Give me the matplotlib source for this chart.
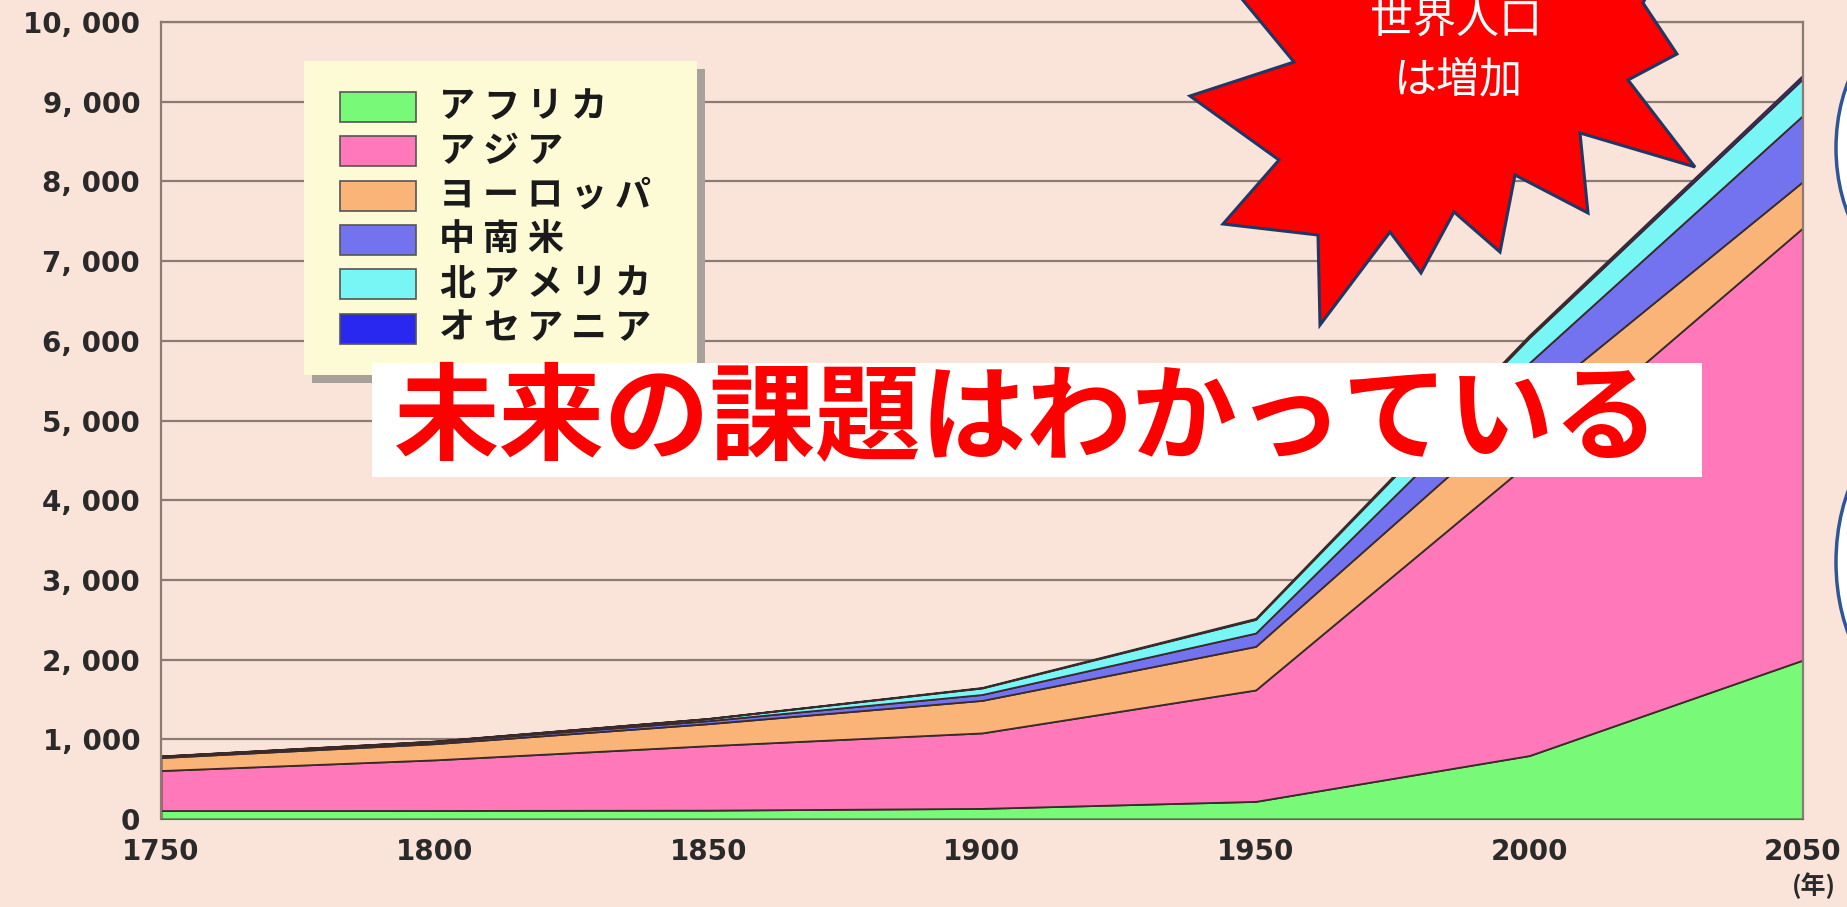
import matplotlib.pyplot as plt
from matplotlib.patches import Rectangle, Polygon, Ellipse

plt.rcParams['font.family'] = ['Noto Sans CJK JP', 'DejaVu Sans']

# world population by region (millions)
years = [1750, 1800, 1850, 1900, 1950, 2000, 2050]
africa = [106, 107, 111, 133, 221, 796, 1995]
asia = [502, 635, 809, 947, 1398, 3680, 5425]
europe = [163, 203, 276, 408, 547, 728, 580]
latin_america = [16, 24, 38, 74, 167, 520, 830]
north_america = [2, 7, 26, 82, 172, 316, 460]
oceania = [2, 2, 2, 6, 13, 31, 45]

regions = ['アフリカ', 'アジア', 'ヨーロッパ', '中南米', '北アメリカ', 'オセアニア']
colors = ['#78fa78', '#ff78b9', '#fab478', '#7373f0', '#78f5f5', '#2828f0']
y_ticks = list(range(0, 10001, 1000))
x_ticks = list(range(1750, 2051, 50))

bg = '#fae4da'
gridc = '#8c7b74'
W, H = 1847, 907

fig = plt.figure(figsize=(W / 100, H / 100), dpi=100, facecolor=bg)
ax = fig.add_axes([161 / W, 1 - 819 / H, (1803 - 161) / W, (819 - 22) / H])
ax.set_facecolor(bg)

ax.stackplot(years, africa, asia, europe, latin_america, north_america, oceania,
             colors=colors, edgecolor='#3a2a2a', linewidth=1.3)

ax.set_xlim(1750, 2050)
ax.set_ylim(0, 10000)
ax.set_xticks(x_ticks)
ax.set_xticklabels([str(x) for x in x_ticks], fontsize=20, fontweight='bold',
                   fontfamily='DejaVu Sans', color='#2a2a2a')
ax.set_yticks(y_ticks)
ax.set_yticklabels(['{:,}'.format(v).replace(',', ', ') for v in y_ticks], fontsize=20,
                   fontweight='bold', fontfamily='DejaVu Sans', color='#2a2a2a')
ax.tick_params(axis='both', length=0)
ax.tick_params(axis='y', pad=15)
ax.tick_params(axis='x', pad=14)
ax.grid(axis='y', color=gridc, lw=1.6)
ax.set_axisbelow(True)
for s in ['left', 'right', 'top']:
    ax.spines[s].set_color(gridc)
    ax.spines[s].set_linewidth(1.6)
ax.spines['bottom'].set_color('#556b55')

fig.text(1814 / W, 1 - 886 / H, '(年)', fontsize=18, fontweight='bold',
         color='#2a2a2a', ha='center', va='center')

# overlay in pixel coords (y down) for the decorations
ov = fig.add_axes([0, 0, 1, 1])
ov.set_xlim(0, W)
ov.set_ylim(H, 0)
ov.axis('off')

# legend box with shadow
ov.add_patch(Rectangle((312, 69), 393, 314, fc='#a8a09a', ec='none'))
ov.add_patch(Rectangle((304, 61), 393, 314, fc='#fdfbd6', ec='none'))
for i, (name, c) in enumerate(zip(regions, colors)):
    yc = 107 + 44.3 * i
    ov.add_patch(Rectangle((340, yc - 15), 76, 30, fc=c, ec='#555555', lw=1.2))
    for j, ch in enumerate(name):
        ov.text(457 + 44 * j, yc, ch, fontsize=26, fontweight='bold', color='#1a1a1a',
                ha='center', va='center')

# starburst
star = [(1218, -30), (1294, 62), (1190, 96), (1279, 160), (1223, 224), (1318, 235),
        (1320, 325), (1390, 232), (1421, 273), (1454, 212), (1500, 252), (1515, 175),
        (1588, 213), (1580, 133), (1695, 167), (1628, 80), (1677, 54), (1643, 3),
        (1665, -40)]
ov.add_patch(Polygon(star, closed=True, fc='#ff0000', ec='#1f3864', lw=2.2))
ov.text(1456, 21, '世界人口', fontsize=31, color='white', ha='center', va='center')
ov.text(1458, 80, 'は増加', fontsize=31, color='white', ha='center', va='center')

# callout ellipses cut off at the right edge
ov.add_patch(Ellipse((1916, 148), 160, 250, fc='white', ec='#2e5597', lw=2.5))
ov.add_patch(Ellipse((1916, 562), 160, 268, fc='white', ec='#2e5597', lw=2.5))

# headline
ov.add_patch(Rectangle((372, 363), 1330, 114, fc='white', ec='none'))
ov.text(1027, 421, '未来の課題はわかっている', fontsize=76, fontweight='bold',
        color='#ff0000', ha='center', va='center')

fig.savefig('out.png', dpi=100, facecolor=bg)
